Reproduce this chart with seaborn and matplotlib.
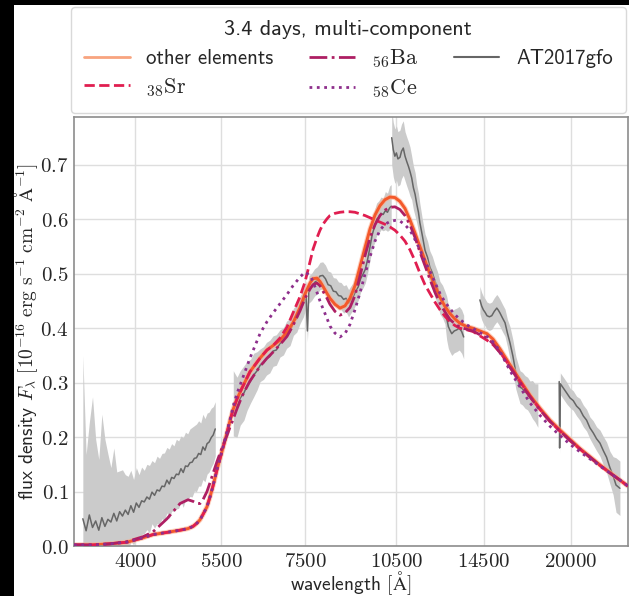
import matplotlib
matplotlib.use("Agg")
import numpy as np
import pandas as pd
import matplotlib.pyplot as plt
from matplotlib.lines import Line2D
from matplotlib.patches import Rectangle
from matplotlib.ticker import NullLocator
import seaborn as sns

# ---------------------------------------------------------------- model spectra
model_wave = [
    3194, 3426, 3648, 3884, 4120, 4275, 4502, 4724, 4865, 4956,
    5029, 5085, 5142, 5218, 5276, 5335, 5414, 5474, 5535, 5618,
    5680, 5744, 5829, 5938, 6115, 6346, 6512, 6658, 6832, 7011,
    7168, 7356, 7493, 7633, 7718, 7831, 7919, 8007, 8127, 8216,
    8369, 8525, 8684, 8846, 9011, 9179, 9350, 9524, 9702, 9881,
    10065, 10253, 10444, 10638, 10837, 11039, 11244, 11454, 11667, 11884,
    12106, 12331, 12561, 12795, 13033, 13276, 13623, 13928, 14292, 14667,
    14996, 15389, 15967, 16567, 17190, 17836, 18507, 19202, 19925, 20674,
    21451, 22258, 23095, 23964, 24687,
]
other_elements = [
    0.002, 0.002, 0.004, 0.007, 0.015, 0.021, 0.025, 0.029, 0.032, 0.036,
    0.042, 0.048, 0.058, 0.072, 0.090, 0.110, 0.140, 0.160, 0.180, 0.208,
    0.230, 0.250, 0.270, 0.290, 0.320, 0.345, 0.360, 0.368, 0.378, 0.393,
    0.410, 0.438, 0.463, 0.483, 0.491, 0.492, 0.486, 0.477, 0.464, 0.455,
    0.444, 0.437, 0.441, 0.455, 0.478, 0.513, 0.548, 0.582, 0.608, 0.625,
    0.636, 0.641, 0.640, 0.633, 0.620, 0.599, 0.575, 0.550, 0.525, 0.500,
    0.478, 0.457, 0.440, 0.427, 0.417, 0.409, 0.403, 0.400, 0.395, 0.390,
    0.380, 0.362, 0.333, 0.305, 0.277, 0.253, 0.231, 0.213, 0.196, 0.179,
    0.164, 0.149, 0.135, 0.121, 0.110,
]
strontium = [
    0.002, 0.002, 0.004, 0.007, 0.015, 0.021, 0.025, 0.029, 0.032, 0.036,
    0.042, 0.048, 0.058, 0.072, 0.090, 0.110, 0.140, 0.160, 0.180, 0.208,
    0.230, 0.250, 0.270, 0.290, 0.320, 0.345, 0.360, 0.368, 0.382, 0.402,
    0.428, 0.458, 0.485, 0.522, 0.545, 0.566, 0.580, 0.591, 0.601, 0.607,
    0.611, 0.613, 0.614, 0.614, 0.613, 0.610, 0.607, 0.603, 0.599, 0.595,
    0.591, 0.586, 0.580, 0.571, 0.560, 0.544, 0.524, 0.501, 0.480, 0.464,
    0.448, 0.434, 0.422, 0.412, 0.405, 0.400, 0.397, 0.394, 0.386, 0.378,
    0.370, 0.356, 0.330, 0.302, 0.275, 0.251, 0.229, 0.211, 0.194, 0.178,
    0.163, 0.148, 0.134, 0.121, 0.110,
]
barium = [
    0.002, 0.002, 0.004, 0.008, 0.017, 0.026, 0.050, 0.078, 0.085, 0.082,
    0.078, 0.078, 0.085, 0.100, 0.116, 0.133, 0.155, 0.170, 0.185, 0.203,
    0.218, 0.232, 0.252, 0.275, 0.303, 0.330, 0.345, 0.356, 0.370, 0.385,
    0.405, 0.432, 0.455, 0.472, 0.480, 0.483, 0.478, 0.468, 0.455, 0.444,
    0.431, 0.424, 0.428, 0.438, 0.460, 0.496, 0.533, 0.566, 0.590, 0.607,
    0.617, 0.622, 0.623, 0.618, 0.607, 0.590, 0.567, 0.540, 0.515, 0.490,
    0.466, 0.446, 0.430, 0.416, 0.408, 0.402, 0.398, 0.395, 0.388, 0.382,
    0.372, 0.355, 0.328, 0.301, 0.274, 0.250, 0.229, 0.211, 0.194, 0.178,
    0.163, 0.148, 0.134, 0.121, 0.110,
]
cerium = [
    0.002, 0.002, 0.004, 0.007, 0.015, 0.021, 0.025, 0.029, 0.032, 0.036,
    0.042, 0.048, 0.058, 0.072, 0.090, 0.110, 0.140, 0.160, 0.182, 0.210,
    0.232, 0.255, 0.280, 0.305, 0.345, 0.390, 0.412, 0.428, 0.445, 0.462,
    0.478, 0.494, 0.503, 0.497, 0.486, 0.466, 0.450, 0.436, 0.418, 0.404,
    0.391, 0.384, 0.390, 0.407, 0.434, 0.465, 0.499, 0.531, 0.560, 0.580,
    0.591, 0.596, 0.598, 0.597, 0.590, 0.580, 0.563, 0.544, 0.523, 0.505,
    0.484, 0.464, 0.448, 0.436, 0.425, 0.416, 0.406, 0.400, 0.392, 0.385,
    0.375, 0.358, 0.322, 0.292, 0.263, 0.240, 0.220, 0.203, 0.187, 0.173,
    0.160, 0.147, 0.134, 0.121, 0.110,
]

# ---------------------------------------------------------- observed AT2017gfo
obs_wave = [
    # UVB arm
    3300, 3340, 3380, 3420, 3460, 3500, 3540, 3580, 3620, 3660,
    3700, 3740, 3780, 3820, 3860, 3900, 3940, 3980, 4020, 4060,
    4100, 4140, 4180, 4220, 4260, 4300, 4340, 4380, 4420, 4460,
    4500, 4540, 4580, 4620, 4660, 4700, 4740, 4780, 4820, 4860,
    4900, 4940, 4980, 5020, 5060, 5100, 5140, 5180, 5220, 5260,
    5300, 5340, 5380,
    # VIS arm
    5750, 5830, 5900, 5980, 6050, 6130, 6200, 6280, 6350, 6430,
    6500, 6580, 6660, 6740, 6830, 6920, 7000, 7090, 7180, 7270,
    7360, 7450, 7520, 7560, 7600, 7680, 7760, 7840, 7920, 8000,
    8080, 8160, 8240, 8320, 8400, 8480, 8560, 8640, 8720, 8800,
    8880, 8960, 9040, 9120, 9200, 9280, 9360, 9440, 9520, 9600,
    9680, 9760, 9840, 9920, 10000, 10080, 10160, 10240, 10300,
    # NIR arm, J band
    10320, 10380, 10440, 10500, 10560, 10640, 10700, 10770, 10840, 10910,
    10980, 11040, 11110, 11180, 11250, 11320, 11390, 11450, 11560, 11670,
    11780, 11880, 11990, 12100, 12220, 12330, 12450, 12560, 12640, 12720,
    12800, 12880, 13000, 13120, 13240, 13360, 13460,
    # H band
    14290, 14380, 14470, 14570, 14670, 14800, 14930, 15070, 15210, 15300,
    15390, 15530, 15680, 15820, 15970, 16140, 16320, 16570, 16720, 16880,
    17040, 17190, 17350, 17510, 17700,
    # K band
    19150, 19180, 19230, 19420, 19690, 19930, 20170, 20420, 20670, 20930,
    21190, 21450, 21710, 21980, 22260, 22540, 22810, 23090, 23370, 23620,
    23960,
]
obs_flux = [
    0.050, 0.028, 0.057, 0.034, 0.046, 0.029, 0.052, 0.036, 0.049, 0.044,
    0.060, 0.046, 0.063, 0.055, 0.066, 0.058, 0.074, 0.062, 0.079, 0.071,
    0.083, 0.081, 0.090, 0.086, 0.099, 0.093, 0.103, 0.101, 0.110, 0.109,
    0.121, 0.114, 0.126, 0.124, 0.132, 0.131, 0.142, 0.135, 0.147, 0.146,
    0.153, 0.154, 0.161, 0.162, 0.170, 0.168, 0.182, 0.176, 0.188, 0.191,
    0.199, 0.204, 0.215,
    0.262, 0.255, 0.272, 0.281, 0.294, 0.303, 0.314, 0.322, 0.332, 0.336,
    0.344, 0.348, 0.358, 0.360, 0.372, 0.376, 0.388, 0.393, 0.412, 0.418,
    0.434, 0.446, 0.462, 0.395, 0.471, 0.476, 0.484, 0.488, 0.496, 0.497,
    0.491, 0.480, 0.478, 0.468, 0.467, 0.460, 0.459, 0.453, 0.455, 0.446,
    0.453, 0.459, 0.469, 0.476, 0.491, 0.499, 0.508, 0.526, 0.548, 0.571,
    0.586, 0.600, 0.604, 0.611, 0.609, 0.616, 0.613, 0.621, 0.624,
    0.750, 0.728, 0.716, 0.722, 0.711, 0.714, 0.725, 0.731, 0.716, 0.706,
    0.697, 0.688, 0.676, 0.658, 0.646, 0.628, 0.613, 0.594, 0.569, 0.543,
    0.530, 0.512, 0.502, 0.487, 0.474, 0.456, 0.449, 0.438, 0.419, 0.403,
    0.396, 0.390, 0.395, 0.397, 0.400, 0.394, 0.384,
    0.452, 0.441, 0.434, 0.429, 0.423, 0.421, 0.423, 0.431, 0.437, 0.433,
    0.428, 0.419, 0.410, 0.391, 0.373, 0.349, 0.318, 0.292, 0.289, 0.283,
    0.280, 0.273, 0.269, 0.263, 0.258,
    0.302, 0.180, 0.298, 0.291, 0.281, 0.272, 0.267, 0.257, 0.251, 0.239,
    0.231, 0.217, 0.208, 0.197, 0.189, 0.175, 0.163, 0.144, 0.129, 0.112,
    0.106,
]
obs_err = [
    0.300, 0.140, 0.170, 0.240, 0.150, 0.130, 0.190, 0.160, 0.120, 0.100,
    0.120, 0.090, 0.075, 0.085, 0.065, 0.070, 0.065, 0.060, 0.065, 0.060,
    0.062, 0.058, 0.060, 0.062, 0.058, 0.060, 0.062, 0.060, 0.060, 0.062,
    0.060, 0.064, 0.062, 0.060, 0.064, 0.062, 0.060, 0.064, 0.062, 0.060,
    0.062, 0.064, 0.060, 0.062, 0.060, 0.058, 0.060, 0.058, 0.056, 0.055,
    0.054, 0.052, 0.050,
    0.060, 0.055, 0.050, 0.050, 0.045, 0.040, 0.040, 0.035, 0.030, 0.030,
    0.030, 0.030, 0.028, 0.028, 0.025, 0.025, 0.025, 0.025, 0.025, 0.025,
    0.025, 0.025, 0.025, 0.020, 0.025, 0.025, 0.025, 0.025, 0.025, 0.025,
    0.025, 0.025, 0.025, 0.025, 0.025, 0.025, 0.025, 0.025, 0.025, 0.025,
    0.025, 0.025, 0.025, 0.025, 0.025, 0.025, 0.025, 0.025, 0.025, 0.025,
    0.030, 0.030, 0.030, 0.030, 0.030, 0.035, 0.035, 0.040, 0.040,
    0.050, 0.050, 0.050, 0.050, 0.050, 0.050, 0.050, 0.050, 0.045, 0.045,
    0.045, 0.045, 0.040, 0.040, 0.040, 0.035, 0.035, 0.035, 0.030, 0.030,
    0.030, 0.030, 0.030, 0.030, 0.030, 0.030, 0.030, 0.030, 0.040, 0.040,
    0.040, 0.040, 0.040, 0.040, 0.040, 0.040, 0.040,
    0.025, 0.025, 0.025, 0.025, 0.025, 0.025, 0.025, 0.025, 0.025, 0.025,
    0.025, 0.025, 0.025, 0.025, 0.030, 0.030, 0.030, 0.030, 0.030, 0.030,
    0.030, 0.030, 0.035, 0.035, 0.040,
    0.020, 0.010, 0.020, 0.020, 0.020, 0.018, 0.018, 0.018, 0.020, 0.020,
    0.020, 0.020, 0.022, 0.022, 0.024, 0.026, 0.028, 0.030, 0.035, 0.050,
    0.050,
]
obs_segment = [0] * 53 + [1] * 59 + [2] * 37 + [3] * 25 + [4] * 21

x_ticks = [4000, 5500, 7500, 10500, 14500, 20000]
y_ticks = [0.0, 0.1, 0.2, 0.3, 0.4, 0.5, 0.6, 0.7]

series_labels = ["other elements", r"$_{38}\mathrm{Sr}$", r"$_{56}\mathrm{Ba}$",
                 r"$_{58}\mathrm{Ce}$", "AT2017gfo"]

# ---------------------------------------------------------------- styling
sns.set_theme(style="whitegrid")
plt.rcParams.update({
    "font.family": ["cmss10", "DejaVu Sans"],
    "mathtext.fontset": "cm",
    "axes.unicode_minus": False,
    "axes.edgecolor": "0.55",
    "axes.linewidth": 1.2,
    "grid.color": "0.87",
    "grid.linewidth": 1.0,
})

c_other_line = "#f4592b"
c_other_halo = "#fcae8e"
c_other_key = "#f8a47f"
c_sr = "#e01e50"
c_ba = "#ae1f63"
c_ce = "#8e2f8c"
c_obs = "#666666"
c_band = "#cbcbcb"

W, H = 629, 596
fig = plt.figure(figsize=(W / 100, H / 100), dpi=100)
fig.patch.set_facecolor("black")
fig.add_artist(Rectangle((14 / W, 0), 1 - 14 / W, 1 - 5 / H, transform=fig.transFigure,
                         facecolor="white", edgecolor="none", zorder=-10))

ax = fig.add_axes([74 / W, 50 / H, (628 - 74) / W, (546 - 117) / H])
ax.set_xscale("log")

obs = pd.DataFrame({"wave": obs_wave, "flux": obs_flux, "err": obs_err,
                    "segment": obs_segment})
for _, part in obs.groupby("segment"):
    ax.fill_between(part["wave"], part["flux"] - part["err"], part["flux"] + part["err"],
                    color=c_band, lw=0, zorder=1)
sns.lineplot(data=obs, x="wave", y="flux", units="segment", estimator=None,
             color=c_obs, lw=1.1, ax=ax, zorder=1.5)

sns.lineplot(x=model_wave, y=other_elements, color=c_other_halo, lw=3.6, alpha=0.6,
             ax=ax, zorder=2)
sns.lineplot(x=model_wave, y=other_elements, color=c_other_line, lw=2.1, ax=ax, zorder=2.5)
sns.lineplot(x=model_wave, y=strontium, color=c_sr, lw=2, linestyle="--", ax=ax, zorder=3)
sns.lineplot(x=model_wave, y=barium, color=c_ba, lw=2, linestyle="-.", ax=ax, zorder=3)
sns.lineplot(x=model_wave, y=cerium, color=c_ce, lw=2, linestyle=":", ax=ax, zorder=3)

ax.set_xlim(3194, 24687)
ax.set_ylim(0, 0.788)
ax.xaxis.set_minor_locator(NullLocator())
ax.set_xticks(x_ticks)
ax.set_xticklabels([f"${t}$" for t in x_ticks], fontsize=15)
ax.set_yticks(y_ticks)
ax.set_yticklabels([f"${t:.1f}$" for t in y_ticks], fontsize=15)
ax.tick_params(axis="both", length=0, pad=4)
for side in ["top", "right", "bottom", "left"]:
    ax.spines[side].set_visible(True)
    ax.spines[side].set_color("0.55")

ax.set_xlabel(r"wavelength $[\mathrm{Å}]$", fontsize=14, labelpad=-1)
ax.set_ylabel(r"flux density $F_\lambda\ [10^{-16}\ \mathrm{erg\ s^{-1}\ cm^{-2}\ Å^{-1}}]$",
              fontsize=14, labelpad=0)

handles = [
    Line2D([], [], color=c_other_key, lw=2),
    Line2D([], [], color=c_sr, lw=2, linestyle="--"),
    Line2D([], [], color=c_ba, lw=2, linestyle="-."),
    Line2D([], [], color=c_ce, lw=2, linestyle=":"),
    Line2D([], [], color=c_obs, lw=1.5),
]
leg = fig.legend(handles, series_labels, ncol=3, loc="upper left",
                 bbox_to_anchor=(71 / W, 1 - 7 / H), bbox_transform=fig.transFigure,
                 borderaxespad=0, title="3.4 days, multi-component",
                 title_fontsize=16, fontsize=15, handlelength=2.2, handletextpad=0.8,
                 columnspacing=1.7, labelspacing=0.38, borderpad=0.62,
                 frameon=True, fancybox=True, edgecolor="0.85", framealpha=1)
for txt in leg.get_texts()[1:4]:
    txt.set_fontsize(16)

fig.savefig("out.png", dpi=100, facecolor=fig.get_facecolor())
